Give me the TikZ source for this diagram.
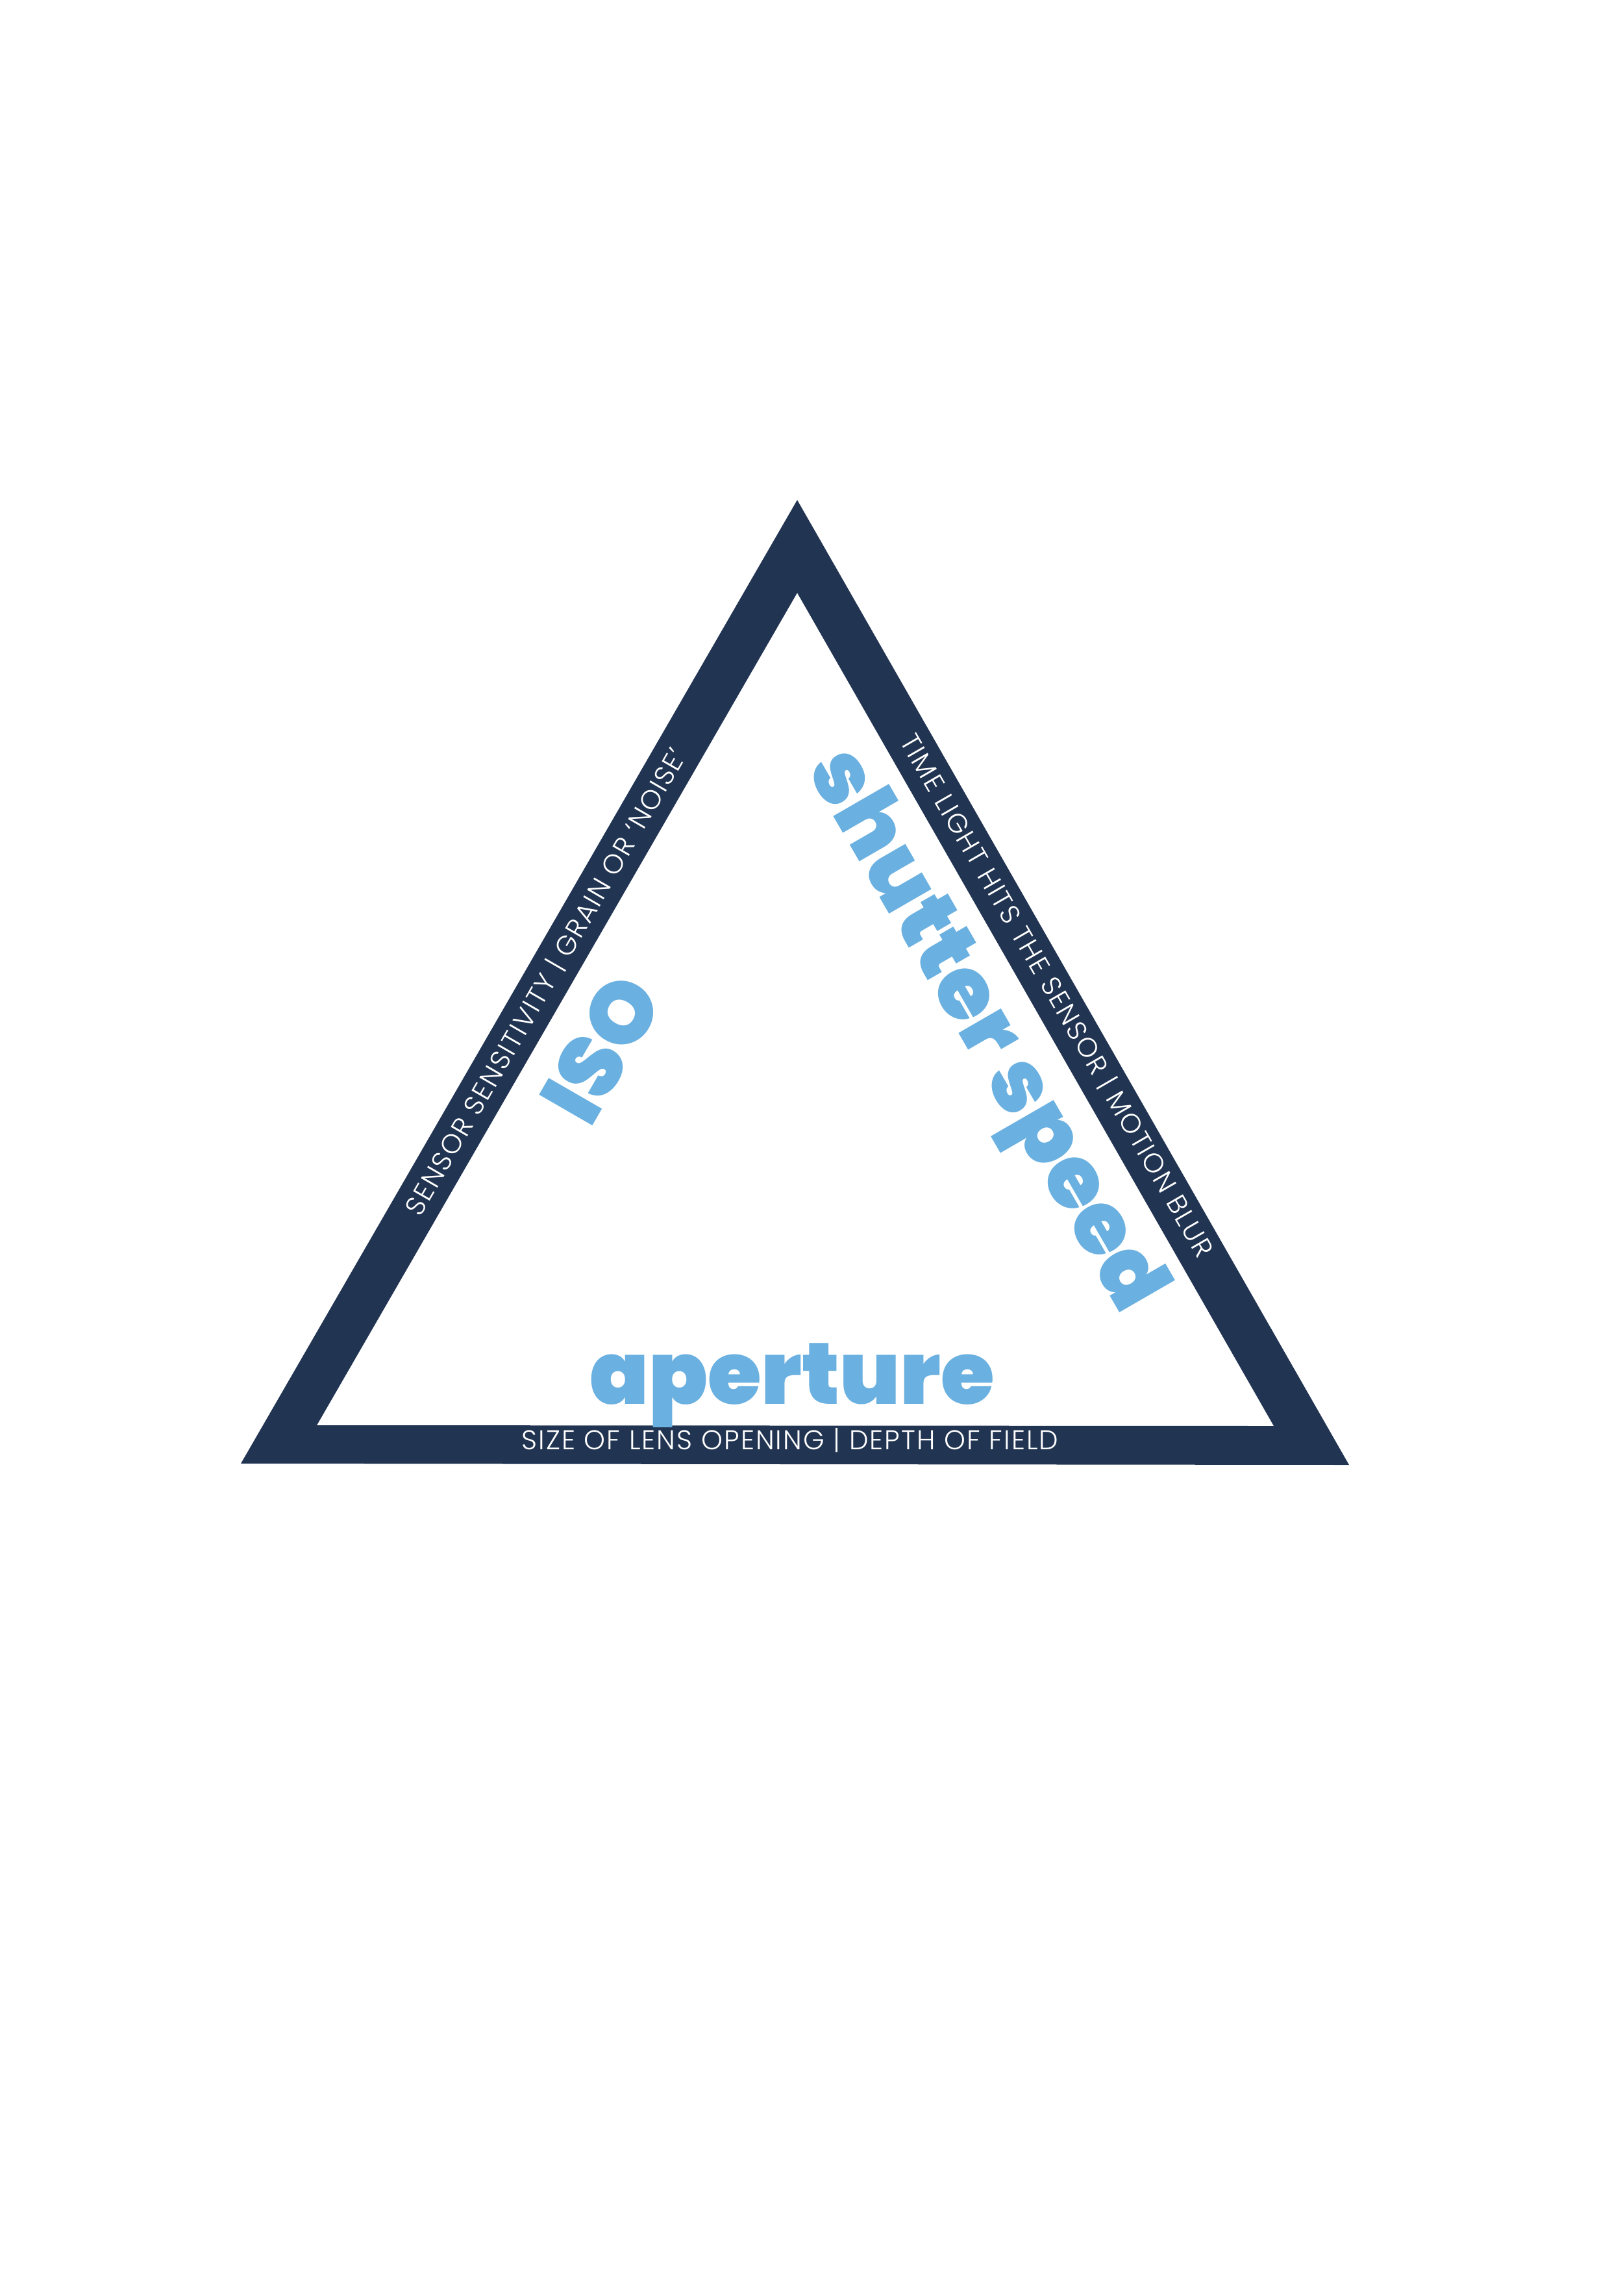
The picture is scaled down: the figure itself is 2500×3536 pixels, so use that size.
\documentclass[tikz,border=0pt]{standalone}
\usepackage{fontspec}
\usepackage{tikz}
\setmainfont{Poppins}
\newfontfamily\heavyfont{Poppins Black}
\newfontfamily\thinfont{Poppins Light}[LetterSpace=5]
\definecolor{navy}{HTML}{213452}
\definecolor{skyblue}{HTML}{6AB0E0}
\tikzstyle{bandlabel} = [text=white, inner sep=0pt, font=\thinfont\fontsize{10}{11}\selectfont]
\tikzstyle{biglabel} = [text=skyblue, inner sep=0pt, font=\heavyfont\fontsize{32}{33}\selectfont]

\begin{document}
\begin{tikzpicture}[x=0.084mm, y=-0.084mm]
    \useasboundingbox (0,0) rectangle (2500,3536);
    % corners of the triangle band
    \coordinate (outerTop) at (1228,770);
    \coordinate (outerLeft) at (371,2254);
    \coordinate (outerRight) at (2078,2256);
    \coordinate (innerTop) at (1228,913);
    \coordinate (innerLeft) at (488,2195);
    \coordinate (innerRight) at (1962,2196);
    \fill [navy, even odd rule] (outerTop) -- (outerLeft) -- (outerRight) -- cycle
        (innerTop) -- (innerLeft) -- (innerRight) -- cycle;
    % texts on the band
    \node [bandlabel, rotate=60] (isoBand) at (841,1512) {SENSOR SENSITIVITY | GRAIN OR ‘NOISE’};
    \node [bandlabel, rotate=-60] (shutterBand) at (1628,1533) {TIME LIGHT HITS THE SENSOR | MOTION BLUR};
    \node [bandlabel, anchor=base] (apertureBand) at (1217,2232) {SIZE OF LENS OPENING | DEPTH OF FIELD};
    % big words
    \node [biglabel, rotate=60] (isoLabel) at (926,1615) {ISO};
    \node [biglabel, rotate=-60] (shutterLabel) at (1512,1590) {shutter speed};
    \node [biglabel, anchor=base] (apertureLabel) at (1220,2162) {aperture};
\end{tikzpicture}
\end{document}
